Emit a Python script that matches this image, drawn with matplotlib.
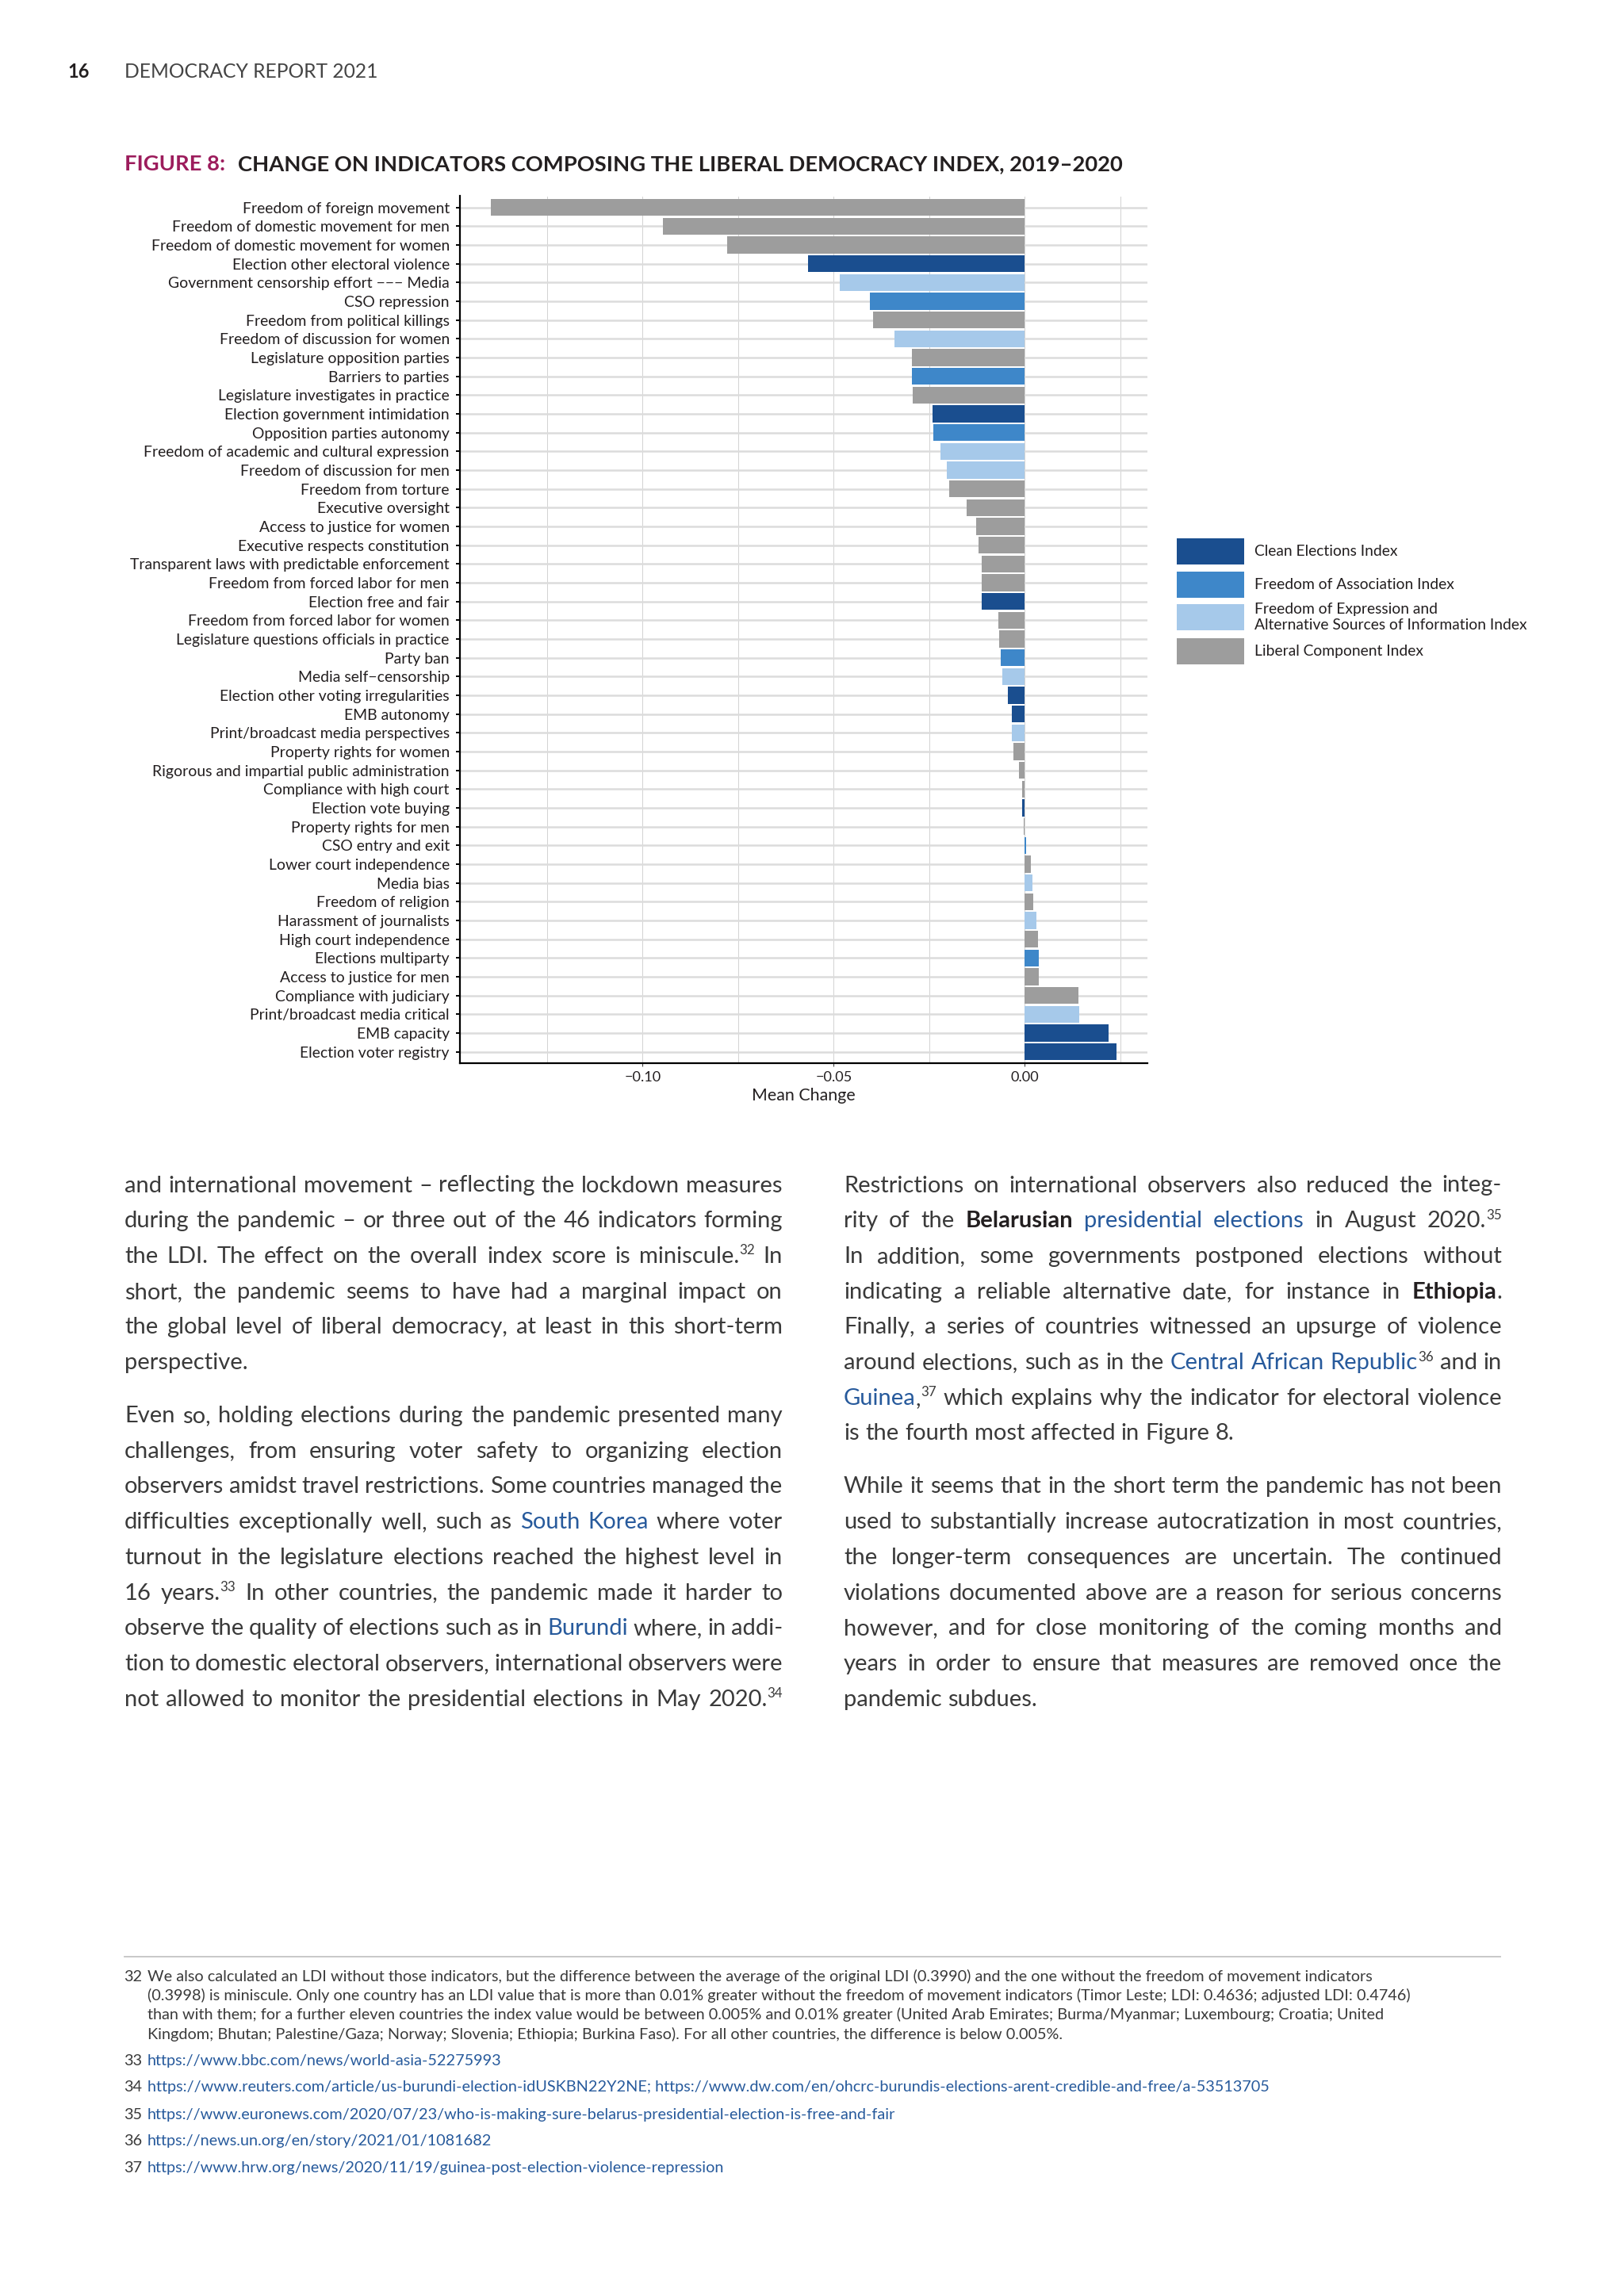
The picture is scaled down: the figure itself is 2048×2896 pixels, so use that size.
import matplotlib
matplotlib.use("Agg")
import matplotlib.pyplot as plt
from matplotlib.patches import Rectangle
from matplotlib.ticker import FixedLocator, FuncFormatter
import numpy as np

W, H, DPI = 2048, 2896, 100
PT = DPI / 72.0
plt.rcParams['font.family'] = ['Lato', 'DejaVu Sans']

# ---------------- data ----------------
indicators = [
    "Freedom of foreign movement",
    "Freedom of domestic movement for men",
    "Freedom of domestic movement for women",
    "Election other electoral violence",
    "Government censorship effort \u2212\u2212\u2212 Media",
    "CSO repression",
    "Freedom from political killings",
    "Freedom of discussion for women",
    "Legislature opposition parties",
    "Barriers to parties",
    "Legislature investigates in practice",
    "Election government intimidation",
    "Opposition parties autonomy",
    "Freedom of academic and cultural expression",
    "Freedom of discussion for men",
    "Freedom from torture",
    "Executive oversight",
    "Access to justice for women",
    "Executive respects constitution",
    "Transparent laws with predictable enforcement",
    "Freedom from forced labor for men",
    "Election free and fair",
    "Freedom from forced labor for women",
    "Legislature questions officials in practice",
    "Party ban",
    "Media self\u2212censorship",
    "Election other voting irregularities",
    "EMB autonomy",
    "Print/broadcast media perspectives",
    "Property rights for women",
    "Rigorous and impartial public administration",
    "Compliance with high court",
    "Election vote buying",
    "Property rights for men",
    "CSO entry and exit",
    "Lower court independence",
    "Media bias",
    "Freedom of religion",
    "Harassment of journalists",
    "High court independence",
    "Elections multiparty",
    "Access to justice for men",
    "Compliance with judiciary",
    "Print/broadcast media critical",
    "EMB capacity",
    "Election voter registry",
]
mean_change = [
    -0.1396, -0.0946, -0.0779, -0.0568, -0.0484, -0.0406, -0.0396, -0.0340,
    -0.0295, -0.0295, -0.0293, -0.0241, -0.0239, -0.0221, -0.0205, -0.0198,
    -0.0153, -0.0128, -0.0121, -0.0113, -0.0113, -0.0112, -0.0070, -0.0067,
    -0.0063, -0.0059, -0.0045, -0.0034, -0.0034, -0.0029, -0.0016, -0.0007,
    -0.0006, -0.0002, 0.0003, 0.0016, 0.0020, 0.0022, 0.0031, 0.0034,
    0.0036, 0.0036, 0.0140, 0.0142, 0.0219, 0.0239,
]
# C = Clean Elections, A = Association, E = Expression, L = Liberal Component
index_group = [
    "L", "L", "L", "C", "E", "A", "L", "E", "L", "A", "L", "C", "A", "E", "E", "L",
    "L", "L", "L", "L", "L", "C", "L", "L", "A", "E", "C", "C", "E", "L", "L", "L",
    "C", "L", "A", "L", "E", "L", "E", "L", "A", "L", "L", "E", "C", "C",
]
group_codes = ["C", "A", "E", "L"]
group_names = [
    "Clean Elections Index",
    "Freedom of Association Index",
    "Freedom of Expression and\nAlternative Sources of Information Index",
    "Liberal Component Index",
]
group_colors = ["#1a4e8f", "#3e87c9", "#a6c9ea", "#9d9d9d"]
x_major_ticks = [-0.10, -0.05, 0.00]
x_minor_ticks = [-0.125, -0.075, -0.025, 0.025]

TEXT_C = "#3a3a3a"
DARK_C = "#231f20"
LINK_C = "#275a9c"
MAGENTA = "#9c1c5c"

fig = plt.figure(figsize=(W / DPI, H / DPI), dpi=DPI)
fig.patch.set_facecolor("white")
page = fig.add_axes([0, 0, 1, 1])
page.set_xlim(0, W)
page.set_ylim(H, 0)
page.axis("off")
renderer = fig.canvas.get_renderer()


def text_w(s, **kw):
    t = page.text(0, 0, s, **kw)
    w = t.get_window_extent(renderer).width
    t.remove()
    return w


def fit(s, target, **kw):
    return 10.0 * target / text_w(s, fontsize=10, **kw)


# ---------------- header & title ----------------
page.text(85, 98, "16", fontsize=17, fontweight="bold", color=DARK_C, va="baseline")
hs = fit("DEMOCRACY REPORT 2021", 318)
page.text(157, 98, "DEMOCRACY REPORT 2021", fontsize=hs, color="#444444", va="baseline")
title_main = "CHANGE ON INDICATORS COMPOSING THE LIBERAL DEMOCRACY INDEX, 2019\u20132020"
ts = fit(title_main, 1118, fontweight="bold")
page.text(157, 215, "FIGURE 8:", fontsize=ts, fontweight="bold", color=MAGENTA, va="baseline")
page.text(300, 215, title_main, fontsize=ts, fontweight="bold", color=DARK_C, va="baseline")

# ---------------- chart ----------------
ax_l, ax_r, ax_t, ax_b = 580, 1447, 247.5, 1341
ax = fig.add_axes([ax_l / W, 1 - ax_b / H, (ax_r - ax_l) / W, (ax_b - ax_t) / H])
n = len(indicators)
ypos = np.arange(n)
color_of = dict(zip(group_codes, group_colors))
ax.barh(ypos, mean_change, height=0.9, color=[color_of[g] for g in index_group],
        edgecolor="none", zorder=3)
lo = min(min(mean_change), 0.0)
hi = max(max(mean_change), 0.0)
pad = 0.05 * (hi - lo)
ax.set_xlim(lo - pad, hi + pad)
ax.set_ylim(n - 1 + 0.6, -0.6)
ax.set_facecolor("none")
ylab_size = fit("Transparent laws with predictable enforcement", 403)
ax.set_yticks(ypos)
ax.set_yticklabels(indicators, fontsize=ylab_size, color=DARK_C)
ax.xaxis.set_major_locator(FixedLocator(x_major_ticks))
ax.xaxis.set_minor_locator(FixedLocator(x_minor_ticks))
ax.xaxis.set_major_formatter(FuncFormatter(lambda v, p: f"{v:.2f}".replace("-", "\u2212")))
ax.set_axisbelow(True)
ax.grid(axis="y", color="#dcdcdc", lw=1.8, zorder=0)
ax.grid(axis="x", which="both", color="#d2d2d2", lw=0.7, zorder=0)
for s in ("top", "right"):
    ax.spines[s].set_visible(False)
for s in ("left", "bottom"):
    ax.spines[s].set_color("black")
    ax.spines[s].set_linewidth(1.6)
ax.tick_params(axis="y", length=3.5, width=1.4, color="black", pad=6)
mc_size = fit("Mean Change", 130)
ax.tick_params(axis="x", which="major", length=3, width=0.8, color="#444444", pad=4,
               labelsize=mc_size * 0.85, labelcolor=DARK_C)
ax.tick_params(axis="x", which="minor", length=0)
ax.set_xlabel("Mean Change", fontsize=mc_size, color=DARK_C, labelpad=4)

# ---------------- legend ----------------
leg_size = fit("Alternative Sources of Information Index", 345)
box_tops = [679, 721, 762, 805]
for top, name, col in zip(box_tops, group_names, group_colors):
    page.add_patch(Rectangle((1484, top), 85, 33, facecolor=col, edgecolor="none"))
    page.text(1582, top + 16.5, name, fontsize=leg_size, color=DARK_C, va="center",
              ha="left", linespacing=1.15)

# ---------------- body text ----------------
left_col = [
    ["and international movement \u2013 reflecting the lockdown measures",
     "during the pandemic \u2013 or three out of the 46 indicators forming",
     "the LDI. The effect on the overall index score is miniscule.^32 In",
     "short, the pandemic seems to have had a marginal impact on",
     "the global level of liberal democracy, at least in this short-term",
     "perspective."],
    ["Even so, holding elections during the pandemic presented many",
     "challenges, from ensuring voter safety to organizing election",
     "observers amidst travel restrictions. Some countries managed the",
     "difficulties exceptionally well, such as {South Korea} where voter",
     "turnout in the legislature elections reached the highest level in",
     "16 years.^33 In other countries, the pandemic made it harder to",
     "observe the quality of elections such as in {Burundi} where, in addi-",
     "tion to domestic electoral observers, international observers were",
     "not allowed to monitor the presidential elections in May 2020.^34"],
]
left_last_justified = [False, True]
right_col = [
    ["Restrictions on international observers also reduced the integ-",
     "rity of the [Belarusian] {presidential elections} in August 2020.^35",
     "In addition, some governments postponed elections without",
     "indicating a reliable alternative date, for instance in [Ethiopia].",
     "Finally, a series of countries witnessed an upsurge of violence",
     "around elections, such as in the {Central African Republic}^36 and in",
     "{Guinea},^37 which explains why the indicator for electoral violence",
     "is the fourth most affected in Figure 8."],
    ["While it seems that in the short term the pandemic has not been",
     "used to substantially increase autocratization in most countries,",
     "the longer-term consequences are uncertain. The continued",
     "violations documented above are a reason for serious concerns",
     "however, and for close monitoring of the coming months and",
     "years in order to ensure that measures are removed once the",
     "pandemic subdues."],
]
right_last_justified = [False, False]


def parse(line):
    tokens, cur = [], []
    buf = ""
    style = "n"
    i = 0
    while i < len(line):
        c = line[i]
        if c == " ":
            if buf:
                cur.append((buf, style)); buf = ""
            if cur:
                tokens.append(cur); cur = []
        elif c in "{[":
            if buf:
                cur.append((buf, style)); buf = ""
            style = "l" if c == "{" else "b"
        elif c in "}]":
            if buf:
                cur.append((buf, style)); buf = ""
            style = "n"
        elif c == "^":
            if buf:
                cur.append((buf, style)); buf = ""
            j = i + 1
            while j < len(line) and line[j].isdigit():
                j += 1
            cur.append((line[i + 1:j], "s"))
            i = j
            continue
        else:
            buf += c
        i += 1
    if buf:
        cur.append((buf, style))
    if cur:
        tokens.append(cur)
    return tokens


def props(style, size):
    if style == "b":
        return dict(fontsize=size, fontweight="bold", color=DARK_C)
    if style == "l":
        return dict(fontsize=size, color=LINK_C)
    if style == "s":
        return dict(fontsize=size * 0.58, color=TEXT_C)
    return dict(fontsize=size, color=TEXT_C)


def token_width(tok, size):
    return sum(text_w(s, **props(st, size)) for s, st in tok)


# auto size body text so that the widest justified line fits
BASE = 24.0
col_w = 830.0
space_b = text_w("a a", fontsize=BASE) - text_w("aa", fontsize=BASE)
worst = 0.0
for col in (left_col, right_col):
    for para in col:
        for ln in para:
            toks = parse(ln)
            tw = sum(token_width(t, BASE) for t in toks)
            worst = max(worst, (tw + 0.8 * space_b * (len(toks) - 1)) / col_w)
body_size = BASE / max(worst, 1.0)
space_w = text_w("a a", fontsize=body_size) - text_w("aa", fontsize=body_size)


def draw_column(col, last_just, x0, y_first, line_h, para_gap):
    y = y_first
    for p, para in enumerate(col):
        for k, ln in enumerate(para):
            toks = parse(ln)
            widths = [token_width(t, body_size) for t in toks]
            last = (k == len(para) - 1) and not last_just[p]
            if last or len(toks) < 2:
                gap = space_w
            else:
                gap = (col_w - sum(widths)) / (len(toks) - 1)
            x = x0
            base = y + 10
            for tok, tw in zip(toks, widths):
                xx = x
                for s, st in tok:
                    pr = props(st, body_size)
                    yy = base - (body_size * PT * 0.36 if st == "s" else 0)
                    page.text(xx, yy, s, va="baseline", ha="left", **pr)
                    xx += text_w(s, **pr)
                x += tw + gap
            y += line_h
        y += para_gap - line_h


LINE_H = 44.7
PARA_H = 67.0
draw_column(left_col, left_last_justified, 157, 1493.5, LINE_H, PARA_H)
draw_column(right_col, right_last_justified, 1064, 1493.5, LINE_H, PARA_H)

# ---------------- footnotes ----------------
page.plot([157, 1892], [2468, 2468], color="#c4c4c4", lw=1.3)
fn32 = [
    "We also calculated an LDI without those indicators, but the difference between the average of the original LDI (0.3990) and the one without the freedom of movement indicators",
    "(0.3998) is miniscule. Only one country has an LDI value that is more than 0.01% greater without the freedom of movement indicators (Timor Leste; LDI: 0.4636; adjusted LDI: 0.4746)",
    "than with them; for a further eleven countries the index value would be between 0.005% and 0.01% greater (United Arab Emirates; Burma/Myanmar; Luxembourg; Croatia; United",
    "Kingdom; Bhutan; Palestine/Gaza; Norway; Slovenia; Ethiopia; Burkina Faso). For all other countries, the difference is below 0.005%.",
]
fn_links = [
    ("33", "https://www.bbc.com/news/world-asia-52275993"),
    ("34", "https://www.reuters.com/article/us-burundi-election-idUSKBN22Y2NE; https://www.dw.com/en/ohcrc-burundis-elections-arent-credible-and-free/a-53513705"),
    ("35", "https://www.euronews.com/2020/07/23/who-is-making-sure-belarus-presidential-election-is-free-and-fair"),
    ("36", "https://news.un.org/en/story/2021/01/1081682"),
    ("37", "https://www.hrw.org/news/2020/11/19/guinea-post-election-violence-repression"),
]
fn_size = fit(fn32[0], 1544)
fn_y32 = [2493, 2517, 2541, 2566]
page.text(156, fn_y32[0] + 6, "32", fontsize=fn_size, color=TEXT_C, va="baseline")
for y, ln in zip(fn_y32, fn32):
    page.text(186, y + 6, ln, fontsize=fn_size, color=TEXT_C, va="baseline")
for y, (num, url) in zip([2599, 2632, 2667, 2700, 2734], fn_links):
    page.text(156, y + 6, num, fontsize=fn_size, color=TEXT_C, va="baseline")
    page.text(186, y + 6, url, fontsize=fn_size, color=LINK_C, va="baseline")

fig.savefig("out.png", dpi=DPI, facecolor="white")
